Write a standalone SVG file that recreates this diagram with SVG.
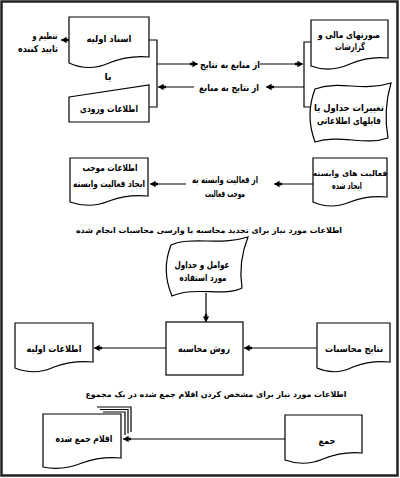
<svg xmlns="http://www.w3.org/2000/svg" width="400" height="478" viewBox="0 0 400 478">
<style>
.s{fill:#fff;stroke:#000;stroke-width:1.2}
.c{fill:none;stroke:#000;stroke-width:1.2}
text{font-family:"DejaVu Sans","Noto Sans",sans-serif;font-weight:bold;font-size:9.4px;text-anchor:middle;fill:#000}
.cap{font-size:7.9px}
.sm{font-size:7.9px}
</style>
<defs>
<marker id="ah" viewBox="0 0 10 10" refX="10" refY="5" markerWidth="8" markerHeight="8" markerUnits="userSpaceOnUse" orient="auto">
<path d="M0,3.5 L3,3.5 L3,1 L10,5 L3,9 L3,6.5 L0,6.5 Z" fill="#000"/>
</marker>
</defs>
<rect x="1.5" y="1.5" width="396" height="474" fill="#fff" stroke="#222" stroke-width="2.5"/>
<g id="connectors">
<path class="c" d="M149,40 H157 V107 H149"/>
<path class="c" d="M311,42 H304 V107 H311"/>
<line class="c" x1="69" y1="40" x2="61" y2="40" marker-end="url(#ah)"/>
<line class="c" x1="157" y1="64" x2="198" y2="64" marker-end="url(#ah)"/>
<line class="c" x1="260" y1="64" x2="303" y2="64" marker-end="url(#ah)"/>
<line class="c" x1="194" y1="87" x2="158" y2="87" marker-end="url(#ah)"/>
<line class="c" x1="304" y1="87" x2="266" y2="87" marker-end="url(#ah)"/>
<line class="c" x1="313" y1="184" x2="274" y2="184" marker-end="url(#ah)"/>
<line class="c" x1="186" y1="184" x2="150" y2="184" marker-end="url(#ah)"/>
<line class="c" x1="206" y1="293" x2="206" y2="322" marker-end="url(#ah)"/>
<line class="c" x1="317" y1="348" x2="244" y2="348" marker-end="url(#ah)"/>
<line class="c" x1="166" y1="348" x2="94" y2="348" marker-end="url(#ah)"/>
<line class="c" x1="285" y1="439" x2="123" y2="439" marker-end="url(#ah)"/>
</g>
<g id="approver">
<text x="45" y="39" textLength="25" lengthAdjust="spacingAndGlyphs">تنظیم و</text>
<text x="38" y="52" textLength="40" lengthAdjust="spacingAndGlyphs">تایید کننده</text>
</g>
<g id="n-primary-docs">
<path class="s" d="M69,17 H149 V57 Q129,55 109,63 Q89,72 69,63 Z"/>
<text x="109" y="42" textLength="45" lengthAdjust="spacingAndGlyphs">اسناد اولیه</text>
</g>
<g id="or-label"><text x="108" y="80">یا</text></g>
<g id="n-input">
<path class="s" d="M69,97 L149,85 V122 H69 Z"/>
<text x="109" y="112" textLength="58" lengthAdjust="spacingAndGlyphs">اطلاعات ورودی</text>
</g>
<g id="l-src-res"><text x="230" y="68" textLength="60" lengthAdjust="spacingAndGlyphs">از منابع به نتایج</text></g>
<g id="l-res-src"><text x="229" y="91" textLength="60" lengthAdjust="spacingAndGlyphs">از نتایج به منابع</text></g>
<g id="n-statements">
<path class="s" d="M311,20 H388 V58 Q369,56 350,64 Q330,73 311,66 Z"/>
<text x="349" y="38" textLength="62" lengthAdjust="spacingAndGlyphs">صورتهای مالی و</text>
<text x="350" y="50" textLength="30" lengthAdjust="spacingAndGlyphs">گزارشات</text>
</g>
<g id="n-tables">
<path class="s" d="M315,89 C340,80 362,92 391,83 Q383,110 388,138 C365,146 340,134 315,142 Q305,115 315,89 Z"/>
<text x="349" y="111" textLength="70" lengthAdjust="spacingAndGlyphs">تغییرات جداول یا</text>
<text x="349" y="124" textLength="64" lengthAdjust="spacingAndGlyphs">فایلهای اطلاعاتی</text>
</g>
<g id="n-cause-info">
<path class="s" d="M70,158 H148 V196 Q128,194 109,201 Q90,209 70,202 Z"/>
<text x="110" y="171" textLength="55" lengthAdjust="spacingAndGlyphs">اطلاعات موجب</text>
<text x="109" y="187" textLength="72" lengthAdjust="spacingAndGlyphs">ایجاد فعالیت وابسته</text>
</g>
<g id="l-dep"><text x="225" y="183" textLength="66" lengthAdjust="spacingAndGlyphs">از فعالیت وابسته به</text><text x="225" y="197" textLength="40" lengthAdjust="spacingAndGlyphs">موجب فعالیت</text></g>
<g id="n-dep-acts">
<path class="s" d="M313,158 H387 V197 Q368,195 350,202 Q331,210 313,202 Z"/>
<text class="sm" x="350" y="176">فعالیت های وابسته</text>
<text x="347" y="189" textLength="30" lengthAdjust="spacingAndGlyphs">ایجاد شده</text>
</g>
<g id="caption1"><text class="cap" x="209" y="233">اطلاعات مورد نیاز برای تجدید محاسبه یا وارسی محاسبات انجام شده</text></g>
<g id="n-factors">
<path class="s" d="M171,245 C190,236 220,246 248,237 Q238,262 242,288 C225,297 195,286 172,296 Q161,270 171,245 Z"/>
<text x="202" y="268" textLength="55" lengthAdjust="spacingAndGlyphs">عوامل و جداول</text>
<text x="203" y="281" textLength="47" lengthAdjust="spacingAndGlyphs">مورد استفاده</text>
</g>
<g id="n-method">
<rect class="s" x="166" y="322" width="77" height="53"/>
<text x="204" y="352" textLength="52" lengthAdjust="spacingAndGlyphs">روش محاسبه</text>
</g>
<g id="n-basic-info">
<path class="s" d="M15,323 H93 V362 Q73,360 54,367 Q35,376 15,368 Z"/>
<text x="54" y="352" textLength="55" lengthAdjust="spacingAndGlyphs">اطلاعات اولیه</text>
</g>
<g id="n-results">
<path class="s" d="M317,323 H390 V362 Q371,360 353,367 Q335,376 317,368 Z"/>
<text x="354" y="352" textLength="58" lengthAdjust="spacingAndGlyphs">نتایج محاسبات</text>
</g>
<g id="caption2"><text class="cap" x="216" y="397">اطلاعات مورد نیاز برای مشخص کردن اقلام جمع شده در یک مجموع</text></g>
<g id="n-summed">
<path class="c" d="M97,407 H131 V432"/>
<path class="c" d="M100,409.5 H128 V433.5"/>
<path class="c" d="M103,412 H125 V435"/>
<path class="s" d="M43,414 H121 V458 Q101,456 82,463 Q62,471 43,467 Z"/>
<text x="84" y="442" textLength="57" lengthAdjust="spacingAndGlyphs">اقلام جمع شده</text>
</g>
<g id="n-sum">
<path class="s" d="M285,415 H362 V453 Q343,451 323,459 Q304,467 285,460 Z"/>
<text x="327" y="444" textLength="17" lengthAdjust="spacingAndGlyphs">جمع</text>
</g>
</svg>
